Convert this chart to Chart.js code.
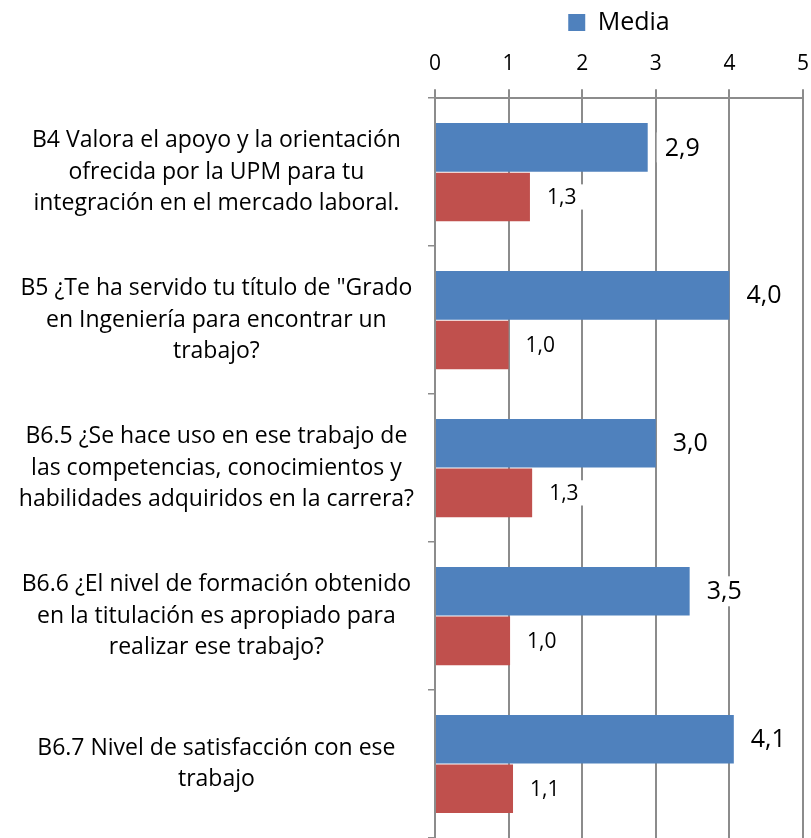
<!DOCTYPE html>
<html>
<head>
<meta charset="utf-8">
<script src="https://cdn.jsdelivr.net/npm/chart.js@4"></script>
<style>
  body { margin: 0; background: #fff; }
  #wrap { width: 811px; height: 838px; }
</style>
</head>
<body>
<div id="wrap"><canvas id="barChart"></canvas></div>
<script>
const categories = [
  ['B4 Valora el apoyo y la orientación', 'ofrecida por la UPM para tu', 'integración en el mercado laboral.'],
  ['B5 ¿Te ha servido tu título de "Grado', 'en Ingeniería para encontrar un', 'trabajo?'],
  ['B6.5 ¿Se hace uso en ese trabajo de', 'las competencias, conocimientos y', 'habilidades adquiridos en la carrera?'],
  ['B6.6 ¿El nivel de formación obtenido', 'en la titulación es apropiado para', 'realizar ese trabajo?'],
  ['B6.7 Nivel de satisfacción con ese', 'trabajo']
];
const mediaValues = [2.89, 4.0, 3.0, 3.46, 4.06];
const desvValues = [1.29, 1.0, 1.32, 1.02, 1.06];
const xTicks = [0, 1, 2, 3, 4, 5];

const FONT = '"Open Sans", sans-serif';
const GRID = '#8c8c8c';

// etiquetas de valor al final de cada barra
const valueLabels = {
  id: 'valueLabels',
  afterLayout(chart) {
    // leyenda centrada sobre el área del gráfico
    const lg = chart.legend;
    lg.left = chart.chartArea.left;
    lg.right = chart.chartArea.right;
    lg.top += 7;
    lg.bottom += 7;
  },
  afterDatasetsDraw(chart) {
    const ctx = chart.ctx;
    chart.data.datasets.forEach((ds, i) => {
      const meta = chart.getDatasetMeta(i);
      const size = i === 0 ? 25 : 21;
      ctx.save();
      ctx.font = size + 'px ' + FONT;
      ctx.textBaseline = 'middle';
      ctx.textAlign = 'left';
      meta.data.forEach((bar, j) => {
        const txt = ds.data[j].toFixed(1).replace('.', ',');
        const x = bar.x + 17;
        const w = ctx.measureText(txt).width;
        ctx.fillStyle = '#fff';
        ctx.fillRect(x - 8, bar.y - size * 0.6, w + 16, size * 1.2);
        ctx.fillStyle = '#000';
        ctx.fillText(txt, x, bar.y + 1);
      });
      ctx.restore();
    });
  }
};

new Chart(document.getElementById('barChart'), {
  type: 'bar',
  data: {
    labels: categories,
    datasets: [
      { label: 'Media', data: mediaValues, backgroundColor: '#4F81BD' },
      { label: 'Desviación típica', data: desvValues, backgroundColor: '#C0504D' }
    ]
  },
  options: {
    indexAxis: 'y',
    responsive: true,
    maintainAspectRatio: false,
    animation: false,
    layout: { padding: { left: 0, right: 8, top: 0, bottom: 0 } },
    datasets: { bar: { categoryPercentage: 0.67, barPercentage: 0.98 } },
    scales: {
      x: {
        position: 'top',
        min: 0,
        max: 5,
        afterBuildTicks: s => { s.ticks = xTicks.map(v => ({ value: v })); },
        afterFit: s => { s.paddingLeft = 0; s.paddingRight = 0; },
        ticks: { color: '#000', font: { family: FONT, size: 21 }, padding: 13 },
        grid: { color: GRID, lineWidth: 2, tickLength: 9, tickColor: GRID },
        border: { color: GRID, width: 2 }
      },
      y: {
        afterFit: s => { s.width = 435; s.paddingTop = 0; s.paddingBottom = 0; },
        ticks: {
          color: '#000',
          crossAlign: 'center',
          padding: 14,
          font: { family: FONT, size: 23, lineHeight: 1.36 }
        },
        grid: { drawOnChartArea: false, tickLength: 7, color: GRID, lineWidth: 1.5 },
        border: { color: GRID, width: 2 }
      }
    },
    plugins: {
      legend: {
        position: 'top',
        labels: {
          color: '#000',
          font: { family: FONT, size: 25 },
          boxWidth: 17,
          boxHeight: 17,
          padding: 3,
          filter: item => item.datasetIndex === 0
        }
      },
      tooltip: { enabled: false }
    }
  },
  plugins: [valueLabels]
});
</script>
</body>
</html>
